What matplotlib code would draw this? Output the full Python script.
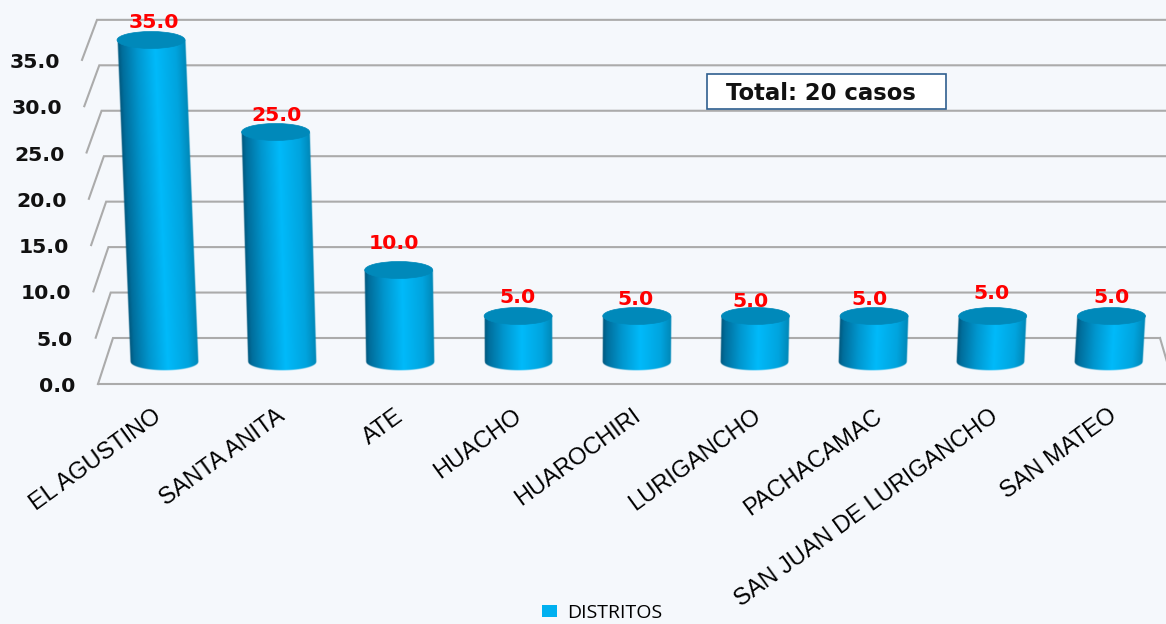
import numpy as np
import matplotlib
matplotlib.use("Agg")
import matplotlib.pyplot as plt
from matplotlib.colors import LinearSegmentedColormap
from matplotlib.patches import Ellipse, Patch, Rectangle

categories = ["EL AGUSTINO", "SANTA ANITA", "ATE", "HUACHO", "HUAROCHIRI",
              "LURIGANCHO", "PACHACAMAC", "SAN JUAN DE LURIGANCHO", "SAN MATEO"]
values = [35.0, 25.0, 10.0, 5.0, 5.0, 5.0, 5.0, 5.0, 5.0]
tick_values = [0, 5, 10, 15, 20, 25, 30, 35]
total_text = "Total: 20 casos"
legend_label = "DISTRITOS"

W, H = 1166, 624
BG = "#F5F8FC"
PX_X = 118.1      # pixels per category
PX_Y = 9.2        # pixels per value unit
X0_PX, Y0_PX = 164, 362
LEAN, LEAN_C = 0.000945, 3.32

fig = plt.figure(figsize=(W / 100, H / 100), dpi=100, facecolor=BG)
ax = fig.add_axes([0, 0, 1, 1])
xlim = ((0 - X0_PX) / PX_X, (W - X0_PX) / PX_X)
ylim = ((Y0_PX - H) / PX_Y, (Y0_PX - 0) / PX_Y)
ax.axis("off")


def px(x, y):
    """Pixel position to data position (layout furniture only)."""
    return (x - X0_PX) / PX_X, (Y0_PX - y) / PX_Y


GRID = "#ABABAB"
for v in tick_values:
    fx, fy = 98 - 16 * v / 35, 384 - 9.26 * v
    bx, by = 113 - 16 * v / 35, 338 - 9.09 * v
    rx = 1160 + v
    xs, ys = zip(px(fx, fy), px(bx, by), px(rx, by))
    ax.plot(xs, ys, color=GRID, lw=1.5, zorder=1, solid_joinstyle="miter")
    tx, ty = px(75 - 15 * v / 35, fy + 2.5)
    ax.text(tx, ty, f"{v:.1f}", ha="right", va="center", fontsize=14.7,
            fontweight="bold", family="DejaVu Sans", color="#111111", zorder=6)

# floor
xs, ys = zip(px(98, 384), px(W, 384))
ax.plot(xs, ys, color=GRID, lw=1.5, zorder=1)
xs, ys = zip(px(1160, 338), px(1170, 372))
ax.plot(xs, ys, color=GRID, lw=1.5, zorder=1)

# cylinders: a shaded raster per bar, placed on the data axes
half_w = 34 / PX_X
ry = 8.5 / PX_Y
cyl = LinearSegmentedColormap.from_list(
    "cyl", [(0.0, "#00587E"), (0.06, "#006E9C"), (0.28, "#0096CE"),
            (0.55, "#00BAFA"), (0.85, "#00A4DE"), (1.0, "#0088B8")])
for i, v in enumerate(values):
    top_x = i + LEAN * (i - LEAN_C) * v
    x0, x1 = min(i, top_x) - half_w * 1.1, max(i, top_x) + half_w * 1.1
    y0, y1 = -ry * 1.3, v + ry * 0.2
    nx, ny = int((x1 - x0) * PX_X * 2), int((y1 - y0) * PX_Y * 2)
    gx = np.linspace(x0, x1, nx)
    gy = np.linspace(y0, y1, ny)
    GX, GY = np.meshgrid(gx, gy)
    u = (GX - (i + (top_x - i) * GY / v)) / half_w
    arc = np.sqrt(np.clip(1 - u * u, 0, 1))
    a_side = np.clip((1 - np.abs(u)) * half_w * PX_X + 0.5, 0, 1)
    a_low = np.clip((GY + ry * arc) * PX_Y + 0.5, 0, 1)
    a_top = np.clip((v - GY) * PX_Y + 0.5, 0, 1)
    rgba = cyl(np.clip((u + 1) / 2, 0, 1))
    rgba[..., 3] = a_side * a_low * a_top
    ax.imshow(rgba, origin="lower", extent=(x0, x1, y0, y1), aspect="auto",
              interpolation="bilinear", zorder=3)
    ax.add_patch(Ellipse((top_x, v), 2 * half_w, 2 * ry, facecolor="#0089BA",
                         edgecolor="#0089BA", lw=0.5, zorder=4))

ax.set_xlim(*xlim)
ax.set_ylim(*ylim)

# value labels
label_dx = [3, 1, -5, -1, -1, -5, -5, -1, 0]
label_dy = [18, 17, 27, 19, 17, 15, 17, 23, 19]
for i, v in enumerate(values):
    top_x = i + LEAN * (i - LEAN_C) * v
    ax.annotate(f"{v:.1f}", (top_x, v), xytext=(label_dx[i] * 0.72, label_dy[i] * 0.72),
                textcoords="offset points", ha="center", va="center", fontsize=14.7,
                fontweight="bold", family="DejaVu Sans", color="#FF0000", zorder=7)

# category labels
label_shift = [-11, -6, -6, -5, -5, -2, 1, -1, -1]
for i, c in enumerate(categories):
    x_end, y_end = px(X0_PX + i * PX_X + label_shift[i], 405)
    ax.text(x_end, y_end, c, rotation=36, rotation_mode="anchor", ha="right", va="top",
            fontsize=17, family="Liberation Sans", color="#000000", zorder=6)

# total box
rx0, ry0 = px(707, 109)
rx1, ry1 = px(946, 74)
ax.add_patch(Rectangle((rx0, ry0), rx1 - rx0, ry1 - ry0, facecolor="#FFFFFF",
                       edgecolor="#2F5F8F", lw=1.2, zorder=5))
tx, ty = px(821, 93)
ax.text(tx, ty, total_text, ha="center", va="center", fontsize=16.4, fontweight="bold",
        family="DejaVu Sans", color="#111111", zorder=6)

# legend
lx, ly = px(602, 613)
leg = ax.legend(handles=[Patch(facecolor="#00B0F0", edgecolor="none", label=legend_label)],
                loc="center", bbox_to_anchor=(lx, ly), bbox_transform=ax.transData,
                frameon=False, prop={"family": "Open Sans", "size": 14},
                handlelength=0.8, handleheight=0.6, handletextpad=0.5,
                borderaxespad=0, borderpad=0)

fig.savefig("out.png", dpi=100, facecolor=BG)
